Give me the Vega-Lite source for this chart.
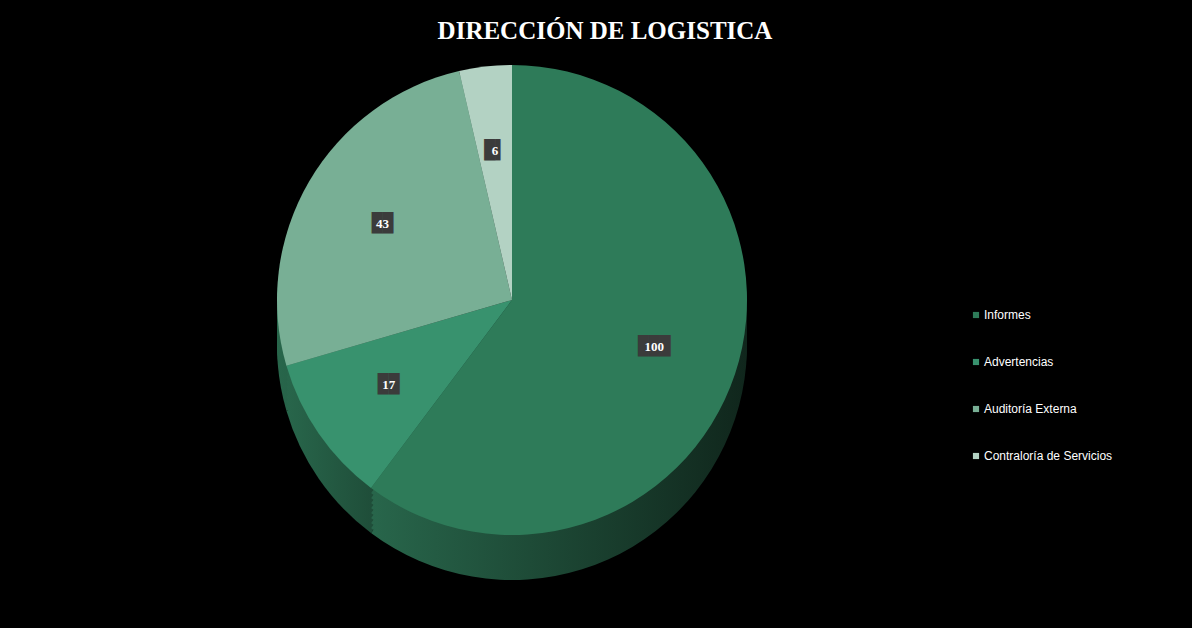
{
  "$schema": "https://vega.github.io/schema/vega-lite/v6.json",
  "background": "black",
  "autosize": {"type": "none"},
  "padding": {"left": 0, "top": 30, "right": 168, "bottom": 58},
  "width": 1024,
  "height": 540,
  "title": {"text": "DIRECCIÓN DE LOGISTICA", "font": "Liberation Serif", "fontSize": 25, "fontWeight": "bold", "color": "white", "anchor": "middle", "frame": "group", "dx": 93, "dy": 18, "offset": 4},
  "view": {"stroke": null},
  "data": {"values": [
    {"categoria": "Informes", "valor": 100, "orden": 1},
    {"categoria": "Advertencias", "valor": 17, "orden": 2},
    {"categoria": "Auditoría Externa", "valor": 43, "orden": 3},
    {"categoria": "Contraloría de Servicios", "valor": 6, "orden": 4}
  ]},
  "encoding": {
    "theta": {"field": "valor", "type": "quantitative", "stack": true},
    "order": {"field": "orden", "type": "quantitative", "sort": "ascending"},
    "detail": {"field": "categoria", "type": "nominal"}
  },
  "layer": [
    {"mark": {"type": "arc", "outerRadius": 235, "yOffset": 45, "color": {"gradient": "linear", "x1": 0, "x2": 1, "y1": 0, "y2": 0, "stops": [{"offset": 0, "color": "#28664b"}, {"offset": 1, "color": "#10261c"}]}}},
    {"mark": {"type": "arc", "outerRadius": 235, "yOffset": 40, "color": {"gradient": "linear", "x1": 0, "x2": 1, "y1": 0, "y2": 0, "stops": [{"offset": 0, "color": "#28664b"}, {"offset": 1, "color": "#10261c"}]}}},
    {"mark": {"type": "arc", "outerRadius": 235, "yOffset": 35, "color": {"gradient": "linear", "x1": 0, "x2": 1, "y1": 0, "y2": 0, "stops": [{"offset": 0, "color": "#28664b"}, {"offset": 1, "color": "#10261c"}]}}},
    {"mark": {"type": "arc", "outerRadius": 235, "yOffset": 30, "color": {"gradient": "linear", "x1": 0, "x2": 1, "y1": 0, "y2": 0, "stops": [{"offset": 0, "color": "#28664b"}, {"offset": 1, "color": "#10261c"}]}}},
    {"mark": {"type": "arc", "outerRadius": 235, "yOffset": 25, "color": {"gradient": "linear", "x1": 0, "x2": 1, "y1": 0, "y2": 0, "stops": [{"offset": 0, "color": "#28664b"}, {"offset": 1, "color": "#10261c"}]}}},
    {"mark": {"type": "arc", "outerRadius": 235, "yOffset": 20, "color": {"gradient": "linear", "x1": 0, "x2": 1, "y1": 0, "y2": 0, "stops": [{"offset": 0, "color": "#28664b"}, {"offset": 1, "color": "#10261c"}]}}},
    {"mark": {"type": "arc", "outerRadius": 235, "yOffset": 15, "color": {"gradient": "linear", "x1": 0, "x2": 1, "y1": 0, "y2": 0, "stops": [{"offset": 0, "color": "#28664b"}, {"offset": 1, "color": "#10261c"}]}}},
    {"mark": {"type": "arc", "outerRadius": 235, "yOffset": 10, "color": {"gradient": "linear", "x1": 0, "x2": 1, "y1": 0, "y2": 0, "stops": [{"offset": 0, "color": "#28664b"}, {"offset": 1, "color": "#10261c"}]}}},
    {"mark": {"type": "arc", "outerRadius": 235, "yOffset": 5, "color": {"gradient": "linear", "x1": 0, "x2": 1, "y1": 0, "y2": 0, "stops": [{"offset": 0, "color": "#28664b"}, {"offset": 1, "color": "#10261c"}]}}},
    {
      "mark": {"type": "arc", "outerRadius": 235},
      "encoding": {"color": {"field": "categoria", "type": "nominal",
        "scale": {"domain": ["Informes", "Advertencias", "Auditoría Externa", "Contraloría de Servicios"], "range": ["#2e7b59", "#38926e", "#78af95", "#b3d2c3"]},
        "legend": {"title": null, "orient": "none", "legendX": 970, "legendY": 279, "symbolType": "square", "symbolSize": 38, "symbolStrokeWidth": 0, "labelColor": "white", "labelFont": "Liberation Sans", "labelFontSize": 12, "rowPadding": 35, "labelOffset": 2}}}
    },
    {
      "transform": [{"calculate": "length(toString(datum.valor)) == 1 ? '█▌' : (length(toString(datum.valor)) == 2 ? '██' : '███')", "as": "caja"}],
      "mark": {"type": "text", "radius": 150, "font": "DejaVu Sans Mono", "fontSize": 18, "color": "#3b3b3b"},
      "encoding": {"text": {"field": "caja", "type": "nominal"}}
    },
    {
      "mark": {"type": "text", "radius": 150, "font": "Liberation Serif", "fontWeight": "bold", "fontSize": 13, "color": "white"},
      "encoding": {"text": {"field": "valor", "type": "quantitative"}}
    }
  ]
}
